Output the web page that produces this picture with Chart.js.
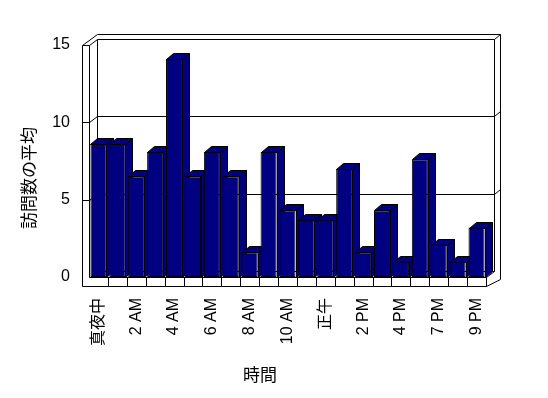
<!DOCTYPE html>
<html>
<head>
<meta charset="utf-8">
<script src="https://cdn.jsdelivr.net/npm/chart.js@4"></script>
<style>
  html, body { margin: 0; padding: 0; background: #fff; }
  canvas { display: block; }
</style>
</head>
<body>
<canvas id="chart" width="548" height="398"></canvas>
<script>
// hours (one evening hour missing in the source)
const hours = ['真夜中', '1 AM', '2 AM', '3 AM', '4 AM', '5 AM', '6 AM', '7 AM', '8 AM', '9 AM', '10 AM', '11 AM',
  '正午', '1 PM', '2 PM', '3 PM', '4 PM', '5 PM', '7 PM', '8 PM', '9 PM'];
const avgVisits = [8.6, 8.6, 6.5, 8.1, 14.1, 6.5, 8.1, 6.5, 1.6, 8.1, 4.3, 3.7,
  3.7, 7.0, 1.6, 4.3, 1.0, 7.6, 2.1, 1.0, 3.2];
const yTicks = [0, 5, 10, 15];
const gridValues = [5, 10];
const xTitle = '時間';
const yTitle = '訪問数の平均';

const FONT = '"Liberation Sans", "Noto Sans CJK JP", sans-serif';
const NAVY = '#000080';

// excel-ish 3d box: walls, floor and bar depth
const box = {
  id: 'box3d',
  beforeDatasetsDraw(chart) {
    const { ctx, chartArea: a } = chart;
    const y = chart.scales.y;
    const L = a.left, R = a.right, T = a.top, B = a.bottom;
    const dx = 8, dy = 6, wx = 7, fh = 9, bx = 6, by = 5;
    const p = v => Math.round(v) + 0.5;
    const line = pts => {
      ctx.beginPath();
      ctx.moveTo(p(pts[0][0]), p(pts[0][1]));
      for (let i = 1; i < pts.length; i++) ctx.lineTo(p(pts[i][0]), p(pts[i][1]));
      ctx.stroke();
    };
    ctx.save();
    ctx.strokeStyle = '#000';
    ctx.lineWidth = 1;
    // left wall
    line([[L - wx, B + fh], [L - wx, T], [L, T], [L, B]]);
    line([[L - wx, T], [L + dx + bx - wx + 1, T - dy - by]]);
    line([[L, T], [L + dx, T - dy]]);
    // back wall
    line([[L + dx, B - dy], [L + dx, T - dy], [R + dx, T - dy], [R + dx, B - dy]]);
    line([[L + dx + bx - wx + 1, T - dy - by], [R + dx + bx, T - dy - by], [R + dx + bx, B + fh - 7]]);
    line([[R + dx, T - dy], [R + dx + bx, T - dy - by]]);
    // floor
    line([[L - wx, B + fh], [R, B + fh], [R, B]]);
    line([[L, B], [R, B], [R + dx, B - dy]]);
    line([[R, B + fh], [R + dx + bx, B + fh - 7]]);
    line([[L + dx, B - dy], [R + dx, B - dy]]);
    const x = chart.scales.x;
    const n = hours.length;
    for (let i = 1; i < n; i++) {
      const xb = (x.getPixelForValue(i - 1) + x.getPixelForValue(i)) / 2;
      line([[xb, B], [xb, B + fh]]);
    }
    // gridlines
    gridValues.forEach(v => {
      const yy = y.getPixelForValue(v);
      line([[L - wx, yy], [L, yy], [L + dx, yy - dy], [R + dx, yy - dy], [R + dx + bx, yy - dy - by]]);
    });
    // bar side and top faces
    const bdx = 7, bdy = 6;
    const meta = chart.getDatasetMeta(0);
    ctx.fillStyle = NAVY;
    meta.data.forEach(bar => {
      const { x: bxC, y: top, width, base } = bar.getProps(['x', 'y', 'width', 'base'], true);
      const l = Math.round(bxC - width / 2), r = Math.round(bxC + width / 2);
      const t = Math.round(top), b = Math.round(base);
      const side = [[r, t], [r + bdx, t - bdy], [r + bdx, b - bdy], [r, b]];
      const cap = [[l, t], [l + bdx, t - bdy], [r + bdx, t - bdy], [r, t]];
      [side, cap].forEach(poly => {
        ctx.beginPath();
        ctx.moveTo(p(poly[0][0]), p(poly[0][1]));
        for (let i = 1; i < poly.length; i++) ctx.lineTo(p(poly[i][0]), p(poly[i][1]));
        ctx.closePath();
        ctx.fill();
        ctx.stroke();
      });
    });
    ctx.restore();
  },
  afterDraw(chart) {
    const { ctx } = chart;
    ctx.save();
    ctx.fillStyle = '#000';
    ctx.font = '17px ' + FONT;
    ctx.textAlign = 'center';
    ctx.textBaseline = 'middle';
    ctx.fillText(xTitle, 260, 376);
    ctx.translate(30, 178);
    ctx.rotate(-Math.PI / 2);
    ctx.fillText(yTitle, 0, 0);
    ctx.restore();
  }
};

new Chart(document.getElementById('chart'), {
  type: 'bar',
  data: {
    labels: hours,
    datasets: [{
      data: avgVisits,
      backgroundColor: NAVY,
      borderColor: '#000',
      borderWidth: 1,
      borderSkipped: false,
      barPercentage: 0.85,
      categoryPercentage: 1
    }]
  },
  options: {
    responsive: false,
    animation: false,
    layout: { padding: { left: 0, top: 45, right: 62, bottom: 0 } },
    plugins: { legend: { display: false }, tooltip: { enabled: false } },
    scales: {
      x: {
        grid: { display: false, drawTicks: false },
        border: { display: false },
        ticks: {
          autoSkip: false,
          minRotation: 90,
          maxRotation: 90,
          padding: 21,
          color: '#000',
          font: { size: 16, family: FONT },
          callback: (v, i) => (i % 2 === 0 ? hours[i] : '')
        },
        afterFit: s => { s.height = 121; }
      },
      y: {
        min: 0,
        max: 15,
        grid: { display: false, drawTicks: false },
        border: { display: false },
        afterBuildTicks: s => { s.ticks = yTicks.map(v => ({ value: v })); },
        ticks: {
          padding: 19,
          color: '#000',
          font: { size: 16, family: FONT }
        },
        afterFit: s => { s.width = 89; }
      }
    }
  },
  plugins: [box]
});
</script>
</body>
</html>
